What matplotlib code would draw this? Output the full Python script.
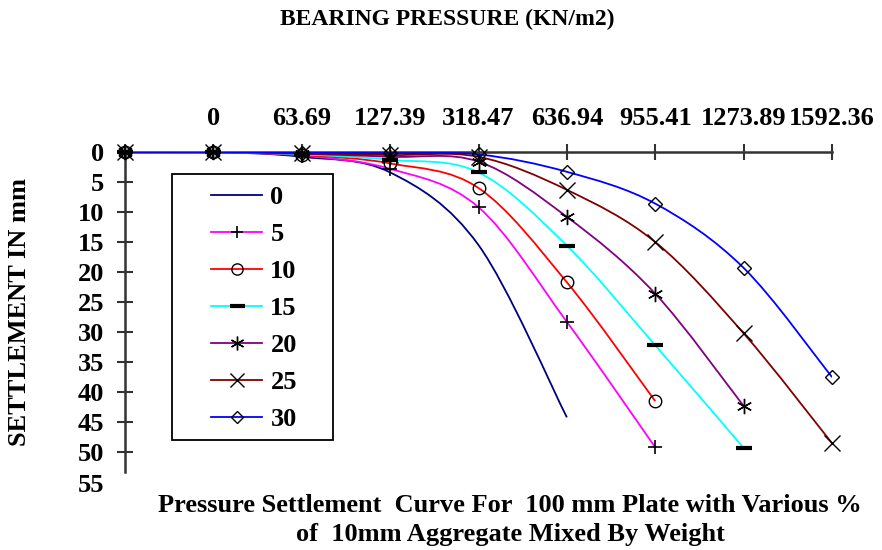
import numpy as np
import matplotlib
matplotlib.use("Agg")
import matplotlib.pyplot as plt
from matplotlib.path import Path
from matplotlib.patches import PathPatch, Rectangle
from matplotlib.lines import Line2D

# ---- data ----
x_labels = ['', '0', '63.69', '127.39', '318.47', '636.94', '955.41', '1273.89', '1592.36']
series_names = ['0', '5', '10', '15', '20', '25', '30']
s0 = [0, 0, 0.8, 3.4, 15.5, 44.2]
s5 = [0, 0, 0.6, 2.8, 9.2, 28.3, 49.2]
s10 = [0, 0, 0.5, 1.9, 6.0, 21.7, 41.5]
s15 = [0, 0, 0.4, 1.3, 3.4, 15.6, 32.2, 49.3]
s20 = [0, 0, 0.3, 0.8, 1.6, 10.8, 23.6, 42.3]
s25 = [0, 0, 0.2, 0.5, 0.8, 6.3, 15.0, 30.2, 48.5]
s30 = [0, 0, 0.1, 0.2, 0.4, 3.3, 8.6, 19.3, 37.5]
all_series = [s0, s5, s10, s15, s20, s25, s30]

colors = ['#000080', '#FF00FF', '#FF0000', '#00FFFF', '#800080', '#800000', '#0000FF']
markers = [None, '+', 'o', '_', (6, 2, 0), 'x', 'D']
msizes = [0, 10, 9, 12, 11, 11, 7]
mews = [0, 1.2, 1.0, 3.0, 1.0, 1.0, 1.0]

FONT = 'Liberation Serif'
FS = 19

fig = plt.figure(figsize=(8.82, 5.5), dpi=100)
ax = fig.add_axes([125/882, 1 - 472/550, (832-125)/882, (472-152)/550])

def smooth_path(xs, ys):
    pts = np.column_stack([xs, ys]).astype(float)
    n = len(pts)
    verts = [pts[0]]
    codes = [Path.MOVETO]
    for i in range(n - 1):
        p0 = pts[i - 1] if i > 0 else pts[i]
        p1 = pts[i]
        p2 = pts[i + 1]
        p3 = pts[i + 2] if i + 2 < n else pts[i + 1]
        c1 = p1 + (p2 - p0) / 6.0
        c2 = p2 - (p3 - p1) / 6.0
        verts += [c1, c2, p2]
        codes += [Path.CURVE4] * 3
    return Path(verts, codes)

for i, s in enumerate(all_series):
    xs = np.arange(len(s))
    patch = PathPatch(smooth_path(xs, s), facecolor='none', edgecolor=colors[i],
                      lw=1.3, zorder=3)
    ax.add_patch(patch)
    if markers[i] is not None:
        ax.plot(xs, s, linestyle='none', marker=markers[i], ms=msizes[i],
                mfc='none', mec='black', mew=mews[i], zorder=4, clip_on=False)

ax.set_xlim(0, 8)
ax.set_ylim(53.3, 0)
ax.xaxis.tick_top()
ax.set_xticks(np.arange(len(x_labels)))
ax.set_xticklabels(x_labels, fontfamily=FONT, fontweight='bold', fontsize=FS)
ax.set_yticks(np.arange(0, 51, 5))
ax.set_yticklabels([str(v) for v in range(0, 51, 5)], fontfamily=FONT,
                   fontweight='bold', fontsize=FS)
ax.text(-0.23, 55.5, '55', fontfamily=FONT, fontweight='bold', fontsize=FS,
        ha='right', va='center', clip_on=False)

ax.tick_params(axis='x', which='major', direction='inout', length=12, width=1.5,
               pad=10, colors='#333333', labelcolor='black')
ax.tick_params(axis='y', which='major', direction='inout', length=12, width=1.5,
               pad=9, colors='#333333', labelcolor='black')
for sp in ['bottom', 'right']:
    ax.spines[sp].set_visible(False)
for sp in ['top', 'left']:
    ax.spines[sp].set_color('#333333')
    ax.spines[sp].set_linewidth(1.8)

# legend: frame drawn separately so it can be wider than the entries
fig.add_artist(Rectangle((172/882, 1 - 440/550), (333-172)/882, (440-174)/550,
                         transform=fig.transFigure, facecolor='white',
                         edgecolor='black', lw=1.3, zorder=5))
handles = []
for i in range(len(series_names)):
    handles.append(Line2D([0], [0], color=colors[i], lw=1.3,
                          marker=markers[i] if markers[i] is not None else None,
                          ms=msizes[i] * 0.9, mfc='none', mec='black', mew=mews[i]))
leg = fig.legend(handles, series_names, loc='upper left',
                 bbox_to_anchor=(211/882, 1 - 186/550),
                 prop={'family': FONT, 'weight': 'bold', 'size': FS},
                 frameon=False, handlelength=1.95, handletextpad=0.3,
                 labelspacing=0.51, borderpad=0, borderaxespad=0)
leg.set_zorder(6)

fig.text(447/882, 1 - 19/550, 'BEARING PRESSURE (KN/m2)', fontfamily=FONT,
         fontweight='bold', fontsize=17, ha='center', va='center')
fig.text(20/882, 1 - 312/550, 'SETTLEMENT IN mm', fontfamily=FONT,
         fontweight='bold', fontsize=19, ha='center', va='center', rotation=90)
fig.text(510/882, 1 - 506/550, 'Pressure Settlement  Curve For  100 mm Plate with Various %',
         fontfamily=FONT, fontweight='bold', fontsize=19, ha='center', va='center')
fig.text(510/882, 1 - 534/550, 'of  10mm Aggregate Mixed By Weight',
         fontfamily=FONT, fontweight='bold', fontsize=19, ha='center', va='center')

fig.savefig('out.png', dpi=100)
